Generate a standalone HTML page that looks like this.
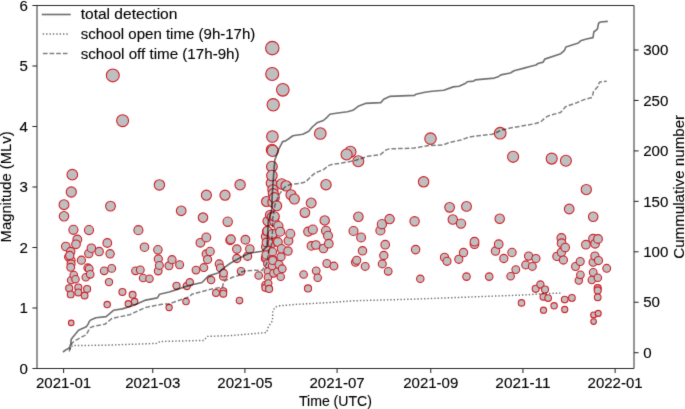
<!DOCTYPE html><html><head><meta charset="utf-8"><style>html,body{margin:0;padding:0;background:#fff;}svg{display:block;}text{font-family:"Liberation Sans",sans-serif;fill:#000;stroke:#000;stroke-width:0.12px;}</style></head><body>
<svg width="685" height="409" viewBox="0 0 685 409">
<defs><filter id="soft" x="0" y="0" width="685" height="409" filterUnits="userSpaceOnUse" color-interpolation-filters="sRGB"><feConvolveMatrix order="3" kernelMatrix="0.01000 0.08000 0.01000 0.08000 0.64000 0.08000 0.01000 0.08000 0.01000" divisor="1" edgeMode="none"/></filter></defs>
<rect x="0" y="0" width="685" height="409" fill="#fff"/>
<g filter="url(#soft)">
<g fill="#bebfc1" stroke="#d21f26" stroke-width="1.1">
<circle cx="64.0" cy="204.7" r="4.91"/>
<circle cx="64.0" cy="216.2" r="4.75"/>
<circle cx="65.8" cy="246.5" r="4.28"/>
<circle cx="68.7" cy="257.0" r="4.11"/>
<circle cx="69.2" cy="288.3" r="3.54"/>
<circle cx="70.7" cy="251.6" r="4.20"/>
<circle cx="70.7" cy="294.4" r="3.41"/>
<circle cx="71.1" cy="260.4" r="4.05"/>
<circle cx="71.1" cy="263.9" r="3.99"/>
<circle cx="71.1" cy="280.2" r="3.70"/>
<circle cx="71.2" cy="322.9" r="2.75"/>
<circle cx="71.3" cy="192.0" r="5.08"/>
<circle cx="72.3" cy="174.7" r="5.31"/>
<circle cx="73.4" cy="229.8" r="4.55"/>
<circle cx="73.8" cy="275.0" r="3.79"/>
<circle cx="75.5" cy="279.2" r="3.72"/>
<circle cx="77.3" cy="239.5" r="4.40"/>
<circle cx="78.3" cy="287.5" r="3.55"/>
<circle cx="78.3" cy="292.4" r="3.46"/>
<circle cx="81.4" cy="260.2" r="4.06"/>
<circle cx="84.6" cy="295.5" r="3.39"/>
<circle cx="85.8" cy="277.2" r="3.75"/>
<circle cx="87.1" cy="289.0" r="3.52"/>
<circle cx="87.8" cy="267.8" r="3.92"/>
<circle cx="88.8" cy="253.6" r="4.17"/>
<circle cx="89.0" cy="230.1" r="4.54"/>
<circle cx="89.2" cy="268.8" r="3.91"/>
<circle cx="90.2" cy="274.3" r="3.81"/>
<circle cx="91.4" cy="248.2" r="4.26"/>
<circle cx="99.2" cy="251.6" r="4.20"/>
<circle cx="104.2" cy="270.8" r="3.87"/>
<circle cx="107.2" cy="304.6" r="3.19"/>
<circle cx="107.3" cy="243.0" r="4.34"/>
<circle cx="109.0" cy="282.1" r="3.66"/>
<circle cx="110.1" cy="253.8" r="4.17"/>
<circle cx="110.5" cy="206.1" r="4.89"/>
<circle cx="111.7" cy="268.4" r="3.91"/>
<circle cx="112.8" cy="75.4" r="6.45"/>
<circle cx="122.4" cy="291.9" r="3.47"/>
<circle cx="122.6" cy="120.7" r="5.96"/>
<circle cx="128.3" cy="303.8" r="3.21"/>
<circle cx="132.6" cy="294.8" r="3.41"/>
<circle cx="134.6" cy="301.6" r="3.26"/>
<circle cx="135.5" cy="270.8" r="3.87"/>
<circle cx="138.4" cy="230.2" r="4.54"/>
<circle cx="140.3" cy="269.9" r="3.89"/>
<circle cx="143.1" cy="278.0" r="3.74"/>
<circle cx="144.5" cy="247.2" r="4.27"/>
<circle cx="149.5" cy="278.7" r="3.72"/>
<circle cx="157.9" cy="249.8" r="4.23"/>
<circle cx="158.2" cy="271.0" r="3.87"/>
<circle cx="158.3" cy="259.0" r="4.08"/>
<circle cx="159.4" cy="184.9" r="5.18"/>
<circle cx="159.4" cy="265.4" r="3.97"/>
<circle cx="169.0" cy="265.8" r="3.96"/>
<circle cx="169.1" cy="307.5" r="3.13"/>
<circle cx="172.0" cy="259.7" r="4.07"/>
<circle cx="176.5" cy="285.8" r="3.59"/>
<circle cx="179.6" cy="264.7" r="3.98"/>
<circle cx="181.2" cy="210.8" r="4.83"/>
<circle cx="186.0" cy="301.5" r="3.26"/>
<circle cx="186.8" cy="286.0" r="3.58"/>
<circle cx="189.8" cy="282.3" r="3.66"/>
<circle cx="196.0" cy="270.1" r="3.88"/>
<circle cx="200.4" cy="242.8" r="4.34"/>
<circle cx="203.0" cy="217.6" r="4.73"/>
<circle cx="203.8" cy="267.6" r="3.93"/>
<circle cx="206.3" cy="237.4" r="4.43"/>
<circle cx="206.3" cy="254.0" r="4.16"/>
<circle cx="206.4" cy="195.2" r="5.04"/>
<circle cx="207.6" cy="259.5" r="4.07"/>
<circle cx="210.1" cy="251.5" r="4.20"/>
<circle cx="211.1" cy="280.1" r="3.70"/>
<circle cx="216.0" cy="292.9" r="3.45"/>
<circle cx="219.2" cy="263.9" r="3.99"/>
<circle cx="220.4" cy="267.9" r="3.92"/>
<circle cx="223.3" cy="276.4" r="3.77"/>
<circle cx="223.3" cy="291.3" r="3.48"/>
<circle cx="223.3" cy="293.7" r="3.43"/>
<circle cx="223.6" cy="273.2" r="3.83"/>
<circle cx="225.0" cy="195.2" r="5.04"/>
<circle cx="227.7" cy="221.7" r="4.67"/>
<circle cx="230.2" cy="240.3" r="4.38"/>
<circle cx="230.9" cy="239.3" r="4.40"/>
<circle cx="236.8" cy="249.1" r="4.24"/>
<circle cx="236.8" cy="258.5" r="4.09"/>
<circle cx="239.5" cy="300.6" r="3.28"/>
<circle cx="240.1" cy="184.8" r="5.18"/>
<circle cx="241.1" cy="271.3" r="3.86"/>
<circle cx="245.4" cy="239.8" r="4.39"/>
<circle cx="247.6" cy="256.3" r="4.12"/>
<circle cx="249.8" cy="249.0" r="4.24"/>
<circle cx="258.7" cy="275.5" r="3.78"/>
<circle cx="265.4" cy="258.6" r="4.08"/>
<circle cx="265.4" cy="284.9" r="3.61"/>
<circle cx="265.4" cy="287.8" r="3.55"/>
<circle cx="265.8" cy="236.6" r="4.44"/>
<circle cx="265.8" cy="246.9" r="4.28"/>
<circle cx="265.8" cy="257.2" r="4.11"/>
<circle cx="266.1" cy="254.9" r="4.15"/>
<circle cx="266.5" cy="201.5" r="4.96"/>
<circle cx="266.5" cy="242.5" r="4.35"/>
<circle cx="266.9" cy="231.5" r="4.52"/>
<circle cx="267.4" cy="230.9" r="4.53"/>
<circle cx="267.6" cy="221.1" r="4.68"/>
<circle cx="267.6" cy="263.8" r="3.99"/>
<circle cx="268.0" cy="271.5" r="3.86"/>
<circle cx="268.0" cy="277.2" r="3.75"/>
<circle cx="268.3" cy="283.4" r="3.63"/>
<circle cx="269.1" cy="288.9" r="3.53"/>
<circle cx="270.2" cy="215.0" r="4.76"/>
<circle cx="271.4" cy="183.3" r="5.20"/>
<circle cx="271.9" cy="149.9" r="5.62"/>
<circle cx="271.9" cy="166.6" r="5.41"/>
<circle cx="271.9" cy="175.6" r="5.30"/>
<circle cx="272.0" cy="216.9" r="4.74"/>
<circle cx="272.0" cy="243.2" r="4.34"/>
<circle cx="272.2" cy="74.0" r="6.47"/>
<circle cx="272.3" cy="48.1" r="6.73"/>
<circle cx="272.4" cy="136.5" r="5.78"/>
<circle cx="272.4" cy="235.5" r="4.46"/>
<circle cx="272.4" cy="252.0" r="4.19"/>
<circle cx="272.4" cy="266.0" r="3.96"/>
<circle cx="272.5" cy="234.0" r="4.48"/>
<circle cx="272.5" cy="242.9" r="4.34"/>
<circle cx="272.7" cy="150.9" r="5.61"/>
<circle cx="272.7" cy="202.2" r="4.95"/>
<circle cx="272.7" cy="259.5" r="4.07"/>
<circle cx="272.7" cy="260.5" r="4.05"/>
<circle cx="272.9" cy="189.8" r="5.11"/>
<circle cx="273.2" cy="104.8" r="6.14"/>
<circle cx="273.3" cy="193.7" r="5.06"/>
<circle cx="273.5" cy="273.3" r="3.82"/>
<circle cx="274.3" cy="197.6" r="5.01"/>
<circle cx="274.4" cy="221.6" r="4.67"/>
<circle cx="274.6" cy="216.5" r="4.74"/>
<circle cx="276.8" cy="205.8" r="4.90"/>
<circle cx="276.9" cy="241.5" r="4.36"/>
<circle cx="277.5" cy="271.5" r="3.86"/>
<circle cx="277.9" cy="242.1" r="4.36"/>
<circle cx="278.4" cy="226.1" r="4.60"/>
<circle cx="279.0" cy="264.5" r="3.98"/>
<circle cx="280.1" cy="231.7" r="4.52"/>
<circle cx="280.7" cy="276.8" r="3.76"/>
<circle cx="281.0" cy="256.8" r="4.11"/>
<circle cx="281.5" cy="248.8" r="4.25"/>
<circle cx="281.7" cy="184.0" r="5.19"/>
<circle cx="282.2" cy="268.8" r="3.91"/>
<circle cx="282.8" cy="89.8" r="6.30"/>
<circle cx="286.1" cy="185.9" r="5.17"/>
<circle cx="288.0" cy="251.1" r="4.21"/>
<circle cx="288.5" cy="240.8" r="4.38"/>
<circle cx="290.3" cy="233.8" r="4.49"/>
<circle cx="291.0" cy="194.8" r="5.05"/>
<circle cx="294.4" cy="199.0" r="4.99"/>
<circle cx="303.6" cy="274.5" r="3.80"/>
<circle cx="304.9" cy="212.6" r="4.80"/>
<circle cx="308.0" cy="288.4" r="3.54"/>
<circle cx="308.2" cy="231.6" r="4.52"/>
<circle cx="311.2" cy="203.0" r="4.93"/>
<circle cx="311.4" cy="245.9" r="4.29"/>
<circle cx="312.8" cy="229.6" r="4.55"/>
<circle cx="315.9" cy="245.0" r="4.31"/>
<circle cx="316.2" cy="270.8" r="3.87"/>
<circle cx="317.7" cy="277.8" r="3.74"/>
<circle cx="320.3" cy="133.5" r="5.82"/>
<circle cx="323.5" cy="248.5" r="4.25"/>
<circle cx="324.7" cy="220.4" r="4.69"/>
<circle cx="326.0" cy="184.7" r="5.18"/>
<circle cx="326.0" cy="230.8" r="4.53"/>
<circle cx="326.9" cy="263.5" r="4.00"/>
<circle cx="328.0" cy="235.7" r="4.46"/>
<circle cx="328.8" cy="243.7" r="4.33"/>
<circle cx="333.9" cy="266.1" r="3.95"/>
<circle cx="350.4" cy="151.8" r="5.60"/>
<circle cx="353.5" cy="231.0" r="4.53"/>
<circle cx="355.5" cy="262.3" r="4.02"/>
<circle cx="356.7" cy="260.3" r="4.06"/>
<circle cx="358.3" cy="161.2" r="5.48"/>
<circle cx="358.4" cy="216.8" r="4.74"/>
<circle cx="361.1" cy="237.4" r="4.43"/>
<circle cx="362.5" cy="250.8" r="4.21"/>
<circle cx="365.2" cy="266.4" r="3.95"/>
<circle cx="380.4" cy="230.5" r="4.54"/>
<circle cx="381.9" cy="224.2" r="4.63"/>
<circle cx="382.3" cy="263.9" r="3.99"/>
<circle cx="383.8" cy="255.5" r="4.14"/>
<circle cx="385.2" cy="244.7" r="4.31"/>
<circle cx="388.2" cy="271.3" r="3.86"/>
<circle cx="389.6" cy="219.1" r="4.71"/>
<circle cx="414.6" cy="221.3" r="4.67"/>
<circle cx="415.6" cy="249.6" r="4.23"/>
<circle cx="420.3" cy="278.8" r="3.72"/>
<circle cx="423.6" cy="181.8" r="5.22"/>
<circle cx="430.5" cy="138.6" r="5.76"/>
<circle cx="444.5" cy="257.4" r="4.10"/>
<circle cx="447.0" cy="261.3" r="4.04"/>
<circle cx="449.6" cy="207.3" r="4.87"/>
<circle cx="452.8" cy="219.5" r="4.70"/>
<circle cx="458.8" cy="259.3" r="4.07"/>
<circle cx="461.0" cy="223.6" r="4.64"/>
<circle cx="463.5" cy="252.6" r="4.18"/>
<circle cx="466.5" cy="206.4" r="4.89"/>
<circle cx="466.5" cy="276.6" r="3.76"/>
<circle cx="474.5" cy="244.2" r="4.32"/>
<circle cx="489.2" cy="276.6" r="3.76"/>
<circle cx="495.5" cy="251.1" r="4.21"/>
<circle cx="498.7" cy="244.2" r="4.32"/>
<circle cx="499.7" cy="218.7" r="4.71"/>
<circle cx="500.2" cy="133.2" r="5.82"/>
<circle cx="503.8" cy="258.5" r="4.09"/>
<circle cx="510.6" cy="276.3" r="3.77"/>
<circle cx="512.0" cy="252.5" r="4.19"/>
<circle cx="513.1" cy="156.8" r="5.54"/>
<circle cx="515.8" cy="269.6" r="3.89"/>
<circle cx="521.5" cy="302.9" r="3.23"/>
<circle cx="525.7" cy="264.9" r="3.98"/>
<circle cx="528.6" cy="256.1" r="4.13"/>
<circle cx="532.3" cy="266.4" r="3.95"/>
<circle cx="535.7" cy="288.8" r="3.53"/>
<circle cx="535.9" cy="258.6" r="4.08"/>
<circle cx="540.4" cy="284.5" r="3.61"/>
<circle cx="543.4" cy="296.8" r="3.36"/>
<circle cx="543.5" cy="310.2" r="3.07"/>
<circle cx="545.0" cy="289.5" r="3.51"/>
<circle cx="548.1" cy="298.1" r="3.34"/>
<circle cx="551.7" cy="158.6" r="5.51"/>
<circle cx="554.1" cy="305.8" r="3.17"/>
<circle cx="556.9" cy="256.4" r="4.12"/>
<circle cx="561.4" cy="238.0" r="4.42"/>
<circle cx="561.4" cy="252.3" r="4.19"/>
<circle cx="561.6" cy="243.2" r="4.34"/>
<circle cx="563.4" cy="260.1" r="4.06"/>
<circle cx="564.7" cy="299.6" r="3.30"/>
<circle cx="564.7" cy="309.5" r="3.08"/>
<circle cx="565.2" cy="247.5" r="4.27"/>
<circle cx="565.9" cy="160.7" r="5.49"/>
<circle cx="569.2" cy="209.0" r="4.85"/>
<circle cx="571.9" cy="297.9" r="3.34"/>
<circle cx="575.5" cy="266.5" r="3.95"/>
<circle cx="578.8" cy="280.6" r="3.69"/>
<circle cx="580.2" cy="261.5" r="4.03"/>
<circle cx="580.4" cy="274.8" r="3.80"/>
<circle cx="585.9" cy="244.7" r="4.31"/>
<circle cx="586.3" cy="189.6" r="5.12"/>
<circle cx="591.8" cy="280.0" r="3.70"/>
<circle cx="593.1" cy="238.8" r="4.41"/>
<circle cx="593.1" cy="262.2" r="4.02"/>
<circle cx="593.2" cy="216.8" r="4.74"/>
<circle cx="593.2" cy="272.4" r="3.84"/>
<circle cx="593.6" cy="314.9" r="2.95"/>
<circle cx="593.6" cy="321.6" r="2.79"/>
<circle cx="594.9" cy="256.1" r="4.13"/>
<circle cx="595.1" cy="243.8" r="4.33"/>
<circle cx="597.7" cy="288.2" r="3.54"/>
<circle cx="597.7" cy="290.4" r="3.50"/>
<circle cx="597.7" cy="297.3" r="3.35"/>
<circle cx="597.8" cy="277.7" r="3.74"/>
<circle cx="598.0" cy="239.0" r="4.40"/>
<circle cx="598.2" cy="313.4" r="2.99"/>
<circle cx="598.5" cy="260.6" r="4.05"/>
<circle cx="606.7" cy="268.3" r="3.92"/>
<circle cx="474.5" cy="241.7" r="4.36"/>
<circle cx="346.6" cy="154.5" r="5.56"/>
<circle cx="76.0" cy="244.3" r="4.32"/>
<circle cx="69.7" cy="255.5" r="4.14"/>
<circle cx="70.7" cy="267.3" r="3.93"/>
</g>
<g fill="none" stroke="#000" stroke-opacity="0.56" stroke-linejoin="round">
<polyline points="69.7,349.5 71.5,346.5 72.5,345.6 105.0,345.2 156.9,343.4 160.2,341.5 204.0,340.4 207.3,336.4 230.0,335.6 249.1,334.0 266.7,332.5 268.4,326.7 272.5,320.8 272.8,310.5 275.5,306.9 279.9,305.8 296.0,304.4 330.0,302.5 352.8,300.8 412.0,299.2 470.0,297.0 525.7,294.9 543.2,293.6 561.8,293.1" stroke-width="1.45" stroke-dasharray="1.4 1.98"/>
<polyline points="69.2,351.5 72.1,343.0 74.6,341.0 81.4,337.1 86.3,334.7 88.3,330.8 90.2,327.8 93.2,326.4 98.0,325.4 104.7,324.3 112.0,318.4 129.6,314.7 145.7,307.4 160.4,304.5 169.2,303.7 178.0,300.8 190.0,296.4 191.7,294.3 207.9,289.9 222.5,287.0 223.8,281.5 227.5,279.6 233.0,277.0 238.5,275.5 240.8,272.3 244.7,271.0 255.0,270.3 262.1,270.5 266.5,264.1 269.4,249.4 271.3,245.7 272.5,231.0 272.6,219.2 273.3,215.5 274.8,205.3 277.0,199.4 280.2,193.0 285.1,186.9 290.5,184.4 299.8,183.5 305.6,182.0 311.0,176.6 315.4,172.7 323.2,169.8 329.1,165.4 333.0,164.1 341.6,163.1 354.8,160.6 368.0,156.2 380.3,154.7 386.1,149.9 389.1,148.9 414.0,148.1 428.7,145.5 443.3,144.9 449.9,142.3 460.9,140.1 468.8,137.2 474.7,136.2 492.3,134.3 501.1,130.3 511.3,127.8 533.3,124.0 540.6,122.0 545.0,117.9 548.8,115.7 560.5,112.5 565.7,106.6 576.7,102.8 584.0,99.6 592.1,97.4 593.5,91.5 597.9,86.4 599.4,82.3 601.6,81.7 606.7,81.3" stroke-width="1.5" stroke-opacity="0.5" stroke-dasharray="4.65 2.0"/>
<polyline points="63.6,351.5 65.8,349.8 68.7,348.4 69.7,346.9 70.9,343.5 71.1,339.6 72.6,337.6 78.5,330.3 86.3,326.8 88.3,323.9 89.2,321.5 90.7,320.0 95.9,317.7 106.1,316.6 113.5,310.3 122.3,308.9 134.0,305.2 145.7,300.1 157.4,297.9 159.6,294.2 169.2,292.0 178.0,289.1 188.8,285.5 202.0,282.5 208.6,275.9 218.1,273.0 224.0,267.9 229.9,263.5 241.6,256.9 248.9,253.2 262.1,251.2 265.4,247.9 267.1,246.0 268.2,222.0 271.7,209.7 272.2,195.0 273.6,175.0 274.8,160.0 278.7,149.4 282.6,141.6 285.1,141.1 288.0,139.2 292.9,135.8 296.1,135.3 302.9,134.2 308.8,131.3 312.3,127.0 317.0,122.8 323.4,120.5 327.0,117.3 329.9,114.3 336.0,113.2 347.4,111.8 352.9,110.3 358.8,105.9 365.4,103.4 380.8,102.6 383.7,99.3 389.6,96.4 414.5,95.4 416.0,94.2 424.8,92.3 432.1,91.3 443.8,90.2 453.2,86.9 459.1,86.2 465.7,83.3 467.1,81.8 473.7,81.1 475.2,79.9 494.3,78.1 498.7,76.4 500.9,74.9 510.4,73.0 514.0,70.8 525.0,67.9 530.0,66.5 535.9,65.0 538.1,63.5 543.2,62.1 544.7,59.1 560.8,53.7 564.5,50.3 565.9,47.0 578.4,43.0 580.6,40.8 586.5,39.0 593.0,37.6 593.8,32.0 597.4,29.1 598.6,23.2 600.4,22.0 607.0,21.4" stroke-width="1.65" stroke-linecap="square"/>
</g>
<g stroke="#2b2b2b" stroke-width="1.06" fill="none" stroke-linecap="butt">
<line x1="37.0" y1="5.5" x2="634.0" y2="5.5"/>
<line x1="37.0" y1="368.5" x2="634.0" y2="368.5"/>
<line x1="37.0" y1="5.5" x2="37.0" y2="368.5" stroke-width="1.0"/>
<line x1="634.0" y1="5.5" x2="634.0" y2="368.5" stroke-width="1.0"/>
<line x1="32.40" y1="368.50" x2="37.0" y2="368.50"/>
<line x1="32.40" y1="308.00" x2="37.0" y2="308.00"/>
<line x1="32.40" y1="247.50" x2="37.0" y2="247.50"/>
<line x1="32.40" y1="187.00" x2="37.0" y2="187.00"/>
<line x1="32.40" y1="126.50" x2="37.0" y2="126.50"/>
<line x1="32.40" y1="66.00" x2="37.0" y2="66.00"/>
<line x1="32.40" y1="5.50" x2="37.0" y2="5.50"/>
<line x1="634.0" y1="352.70" x2="638.60" y2="352.70"/>
<line x1="634.0" y1="302.25" x2="638.60" y2="302.25"/>
<line x1="634.0" y1="251.80" x2="638.60" y2="251.80"/>
<line x1="634.0" y1="201.35" x2="638.60" y2="201.35"/>
<line x1="634.0" y1="150.90" x2="638.60" y2="150.90"/>
<line x1="634.0" y1="100.45" x2="638.60" y2="100.45"/>
<line x1="634.0" y1="50.00" x2="638.60" y2="50.00"/>
<line x1="63.60" y1="368.5" x2="63.60" y2="373.10"/>
<line x1="152.75" y1="368.5" x2="152.75" y2="373.10"/>
<line x1="244.92" y1="368.5" x2="244.92" y2="373.10"/>
<line x1="337.09" y1="368.5" x2="337.09" y2="373.10"/>
<line x1="430.77" y1="368.5" x2="430.77" y2="373.10"/>
<line x1="522.94" y1="368.5" x2="522.94" y2="373.10"/>
<line x1="615.12" y1="368.5" x2="615.12" y2="373.10"/>
</g>
<text x="27.80" y="373.60" font-size="13.9" text-anchor="end" textLength="8.40" lengthAdjust="spacingAndGlyphs">0</text>
<text x="27.80" y="313.10" font-size="13.9" text-anchor="end" textLength="8.40" lengthAdjust="spacingAndGlyphs">1</text>
<text x="27.80" y="252.60" font-size="13.9" text-anchor="end" textLength="8.40" lengthAdjust="spacingAndGlyphs">2</text>
<text x="27.80" y="192.10" font-size="13.9" text-anchor="end" textLength="8.40" lengthAdjust="spacingAndGlyphs">3</text>
<text x="27.80" y="131.60" font-size="13.9" text-anchor="end" textLength="8.40" lengthAdjust="spacingAndGlyphs">4</text>
<text x="27.80" y="71.10" font-size="13.9" text-anchor="end" textLength="8.40" lengthAdjust="spacingAndGlyphs">5</text>
<text x="27.80" y="10.60" font-size="13.9" text-anchor="end" textLength="8.40" lengthAdjust="spacingAndGlyphs">6</text>
<text x="643.20" y="357.90" font-size="13.9" text-anchor="start" textLength="8.40" lengthAdjust="spacingAndGlyphs">0</text>
<text x="643.20" y="307.45" font-size="13.9" text-anchor="start" textLength="16.80" lengthAdjust="spacingAndGlyphs">50</text>
<text x="643.20" y="257.00" font-size="13.9" text-anchor="start" textLength="25.19" lengthAdjust="spacingAndGlyphs">100</text>
<text x="643.20" y="206.55" font-size="13.9" text-anchor="start" textLength="25.19" lengthAdjust="spacingAndGlyphs">150</text>
<text x="643.20" y="156.10" font-size="13.9" text-anchor="start" textLength="25.19" lengthAdjust="spacingAndGlyphs">200</text>
<text x="643.20" y="105.65" font-size="13.9" text-anchor="start" textLength="25.19" lengthAdjust="spacingAndGlyphs">250</text>
<text x="643.20" y="55.20" font-size="13.9" text-anchor="start" textLength="25.19" lengthAdjust="spacingAndGlyphs">300</text>
<text x="63.60" y="388.00" font-size="13.9" text-anchor="middle" textLength="55.15" lengthAdjust="spacingAndGlyphs">2021-01</text>
<text x="152.75" y="388.00" font-size="13.9" text-anchor="middle" textLength="55.15" lengthAdjust="spacingAndGlyphs">2021-03</text>
<text x="244.92" y="388.00" font-size="13.9" text-anchor="middle" textLength="55.15" lengthAdjust="spacingAndGlyphs">2021-05</text>
<text x="337.09" y="388.00" font-size="13.9" text-anchor="middle" textLength="55.15" lengthAdjust="spacingAndGlyphs">2021-07</text>
<text x="430.77" y="388.00" font-size="13.9" text-anchor="middle" textLength="55.15" lengthAdjust="spacingAndGlyphs">2021-09</text>
<text x="522.94" y="388.00" font-size="13.9" text-anchor="middle" textLength="55.15" lengthAdjust="spacingAndGlyphs">2021-11</text>
<text x="615.12" y="388.00" font-size="13.9" text-anchor="middle" textLength="55.15" lengthAdjust="spacingAndGlyphs">2022-01</text>
<text x="335.45" y="405.90" font-size="13.9" text-anchor="middle" textLength="72.97" lengthAdjust="spacingAndGlyphs">Time (UTC)</text>
<g transform="translate(11.0 186.9) rotate(-90)"><text x="0.00" y="0.00" font-size="13.9" text-anchor="middle" textLength="110.98" lengthAdjust="spacingAndGlyphs">Magnitude (MLv)</text></g>
<g transform="translate(683.5 186.8) rotate(-90)"><text x="0.00" y="0.00" font-size="13.9" text-anchor="middle" textLength="143.91" lengthAdjust="spacingAndGlyphs">Cummulative number</text></g>
<line x1="42.6" y1="14.5" x2="69.9" y2="14.5" stroke="#000" stroke-opacity="0.56" stroke-width="1.65" stroke-linecap="square"/>
<line x1="42.7" y1="34.0" x2="68.2" y2="34.0" stroke="#000" stroke-opacity="0.56" stroke-width="1.45" stroke-dasharray="1.4 1.98"/>
<line x1="42.9" y1="53.4" x2="69.0" y2="53.4" stroke="#000" stroke-opacity="0.5" stroke-width="1.5" stroke-dasharray="4.65 2.0"/>
<text x="80.70" y="18.80" font-size="13.9" text-anchor="start" textLength="96.72" lengthAdjust="spacingAndGlyphs">total detection</text>
<text x="80.70" y="39.10" font-size="13.9" text-anchor="start" textLength="174.66" lengthAdjust="spacingAndGlyphs">school open time (9h-17h)</text>
<text x="80.70" y="58.50" font-size="13.9" text-anchor="start" textLength="158.89" lengthAdjust="spacingAndGlyphs">school off time (17h-9h)</text>
</g>
</svg></body></html>
